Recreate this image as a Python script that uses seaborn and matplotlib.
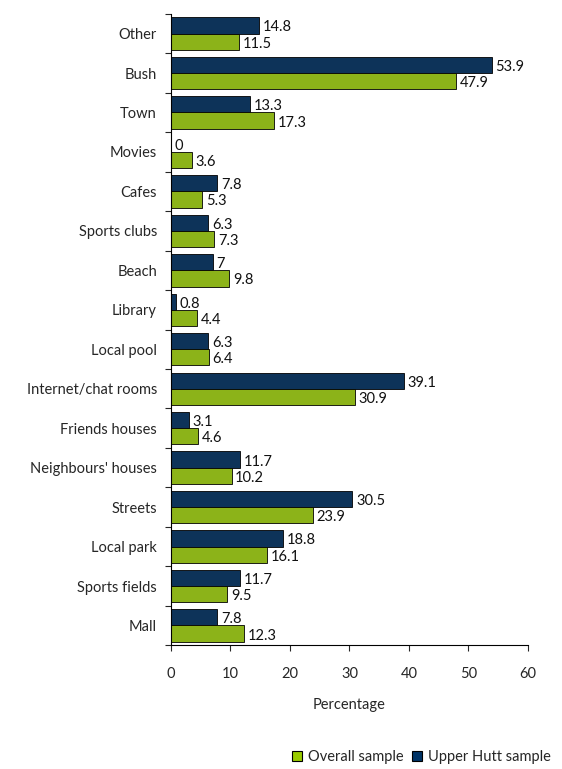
import matplotlib
matplotlib.use("Agg")
import matplotlib.pyplot as plt
import seaborn as sns
import pandas as pd
from matplotlib.patches import Patch

categories = ["Other", "Bush", "Town", "Movies", "Cafes", "Sports clubs", "Beach", "Library",
              "Local pool", "Internet/chat rooms", "Friends houses", "Neighbours' houses",
              "Streets", "Local park", "Sports fields", "Mall"]
upper_hutt = [14.8, 53.9, 13.3, 0, 7.8, 6.3, 7, 0.8, 6.3, 39.1, 3.1, 11.7, 30.5, 18.8, 11.7, 7.8]
overall = [11.5, 47.9, 17.3, 3.6, 5.3, 7.3, 9.8, 4.4, 6.4, 30.9, 4.6, 10.2, 23.9, 16.1, 9.5, 12.3]
x_ticks = [0, 10, 20, 30, 40, 50, 60]
series_names = ["Upper Hutt sample", "Overall sample"]
colors = {"Upper Hutt sample": "#003366", "Overall sample": "#99CC00"}

df = pd.DataFrame({
    "Category": categories * 2,
    "Value": upper_hutt + overall,
    "Series": ["Upper Hutt sample"] * len(categories) + ["Overall sample"] * len(categories),
})

sns.set_style("white")
plt.rcParams["font.family"] = ["Lato", "DejaVu Sans"]

fig = plt.figure(figsize=(5.62, 7.69), dpi=100)
ax = fig.add_axes([0.304, 0.161, 0.6355, 0.821])

sns.barplot(data=df, y="Category", x="Value", hue="Series", hue_order=series_names,
            order=categories, palette=colors, orient="h", width=0.82,
            edgecolor="black", linewidth=0.6, ax=ax, legend=False)

fs = 10.5
for cont, vals in zip(ax.containers, [upper_hutt, overall]):
    for bar, v in zip(cont, vals):
        y = bar.get_y() + bar.get_height() / 2
        ax.text(bar.get_width() + 0.6, y + 0.05, f"{v:g}", va="center", ha="left",
                fontsize=fs, color="#111111")

ax.set_xlim(0, 60)
ax.set_xticks(x_ticks)
ax.set_ylim(len(categories) - 0.5, -0.5)
ax.set_xlabel("Percentage", fontsize=fs, labelpad=12)
ax.set_ylabel("")
ax.tick_params(axis="x", labelsize=fs, length=4, direction="out", bottom=True, pad=12, width=0.8)
ax.tick_params(axis="y", labelsize=fs, length=0, pad=10)
# boundary ticks on y axis
ax.set_yticks([i - 0.5 for i in range(len(categories) + 1)], minor=True)
ax.tick_params(axis="y", which="minor", length=4, left=True, width=0.8)
for s in ["top", "right"]:
    ax.spines[s].set_visible(False)
for s in ["left", "bottom"]:
    ax.spines[s].set_color("black")
    ax.spines[s].set_linewidth(0.8)

handles = [Patch(facecolor=colors["Overall sample"], edgecolor="black", linewidth=0.8, label="Overall sample"),
           Patch(facecolor=colors["Upper Hutt sample"], edgecolor="black", linewidth=0.8, label="Upper Hutt sample")]
fig.legend(handles=handles, loc="center", bbox_to_anchor=(0.75, 0.015), ncol=2, frameon=False,
           fontsize=fs, handlelength=0.7, handleheight=0.7, handletextpad=0.4, columnspacing=0.6)

fig.savefig("out.png", dpi=100)
